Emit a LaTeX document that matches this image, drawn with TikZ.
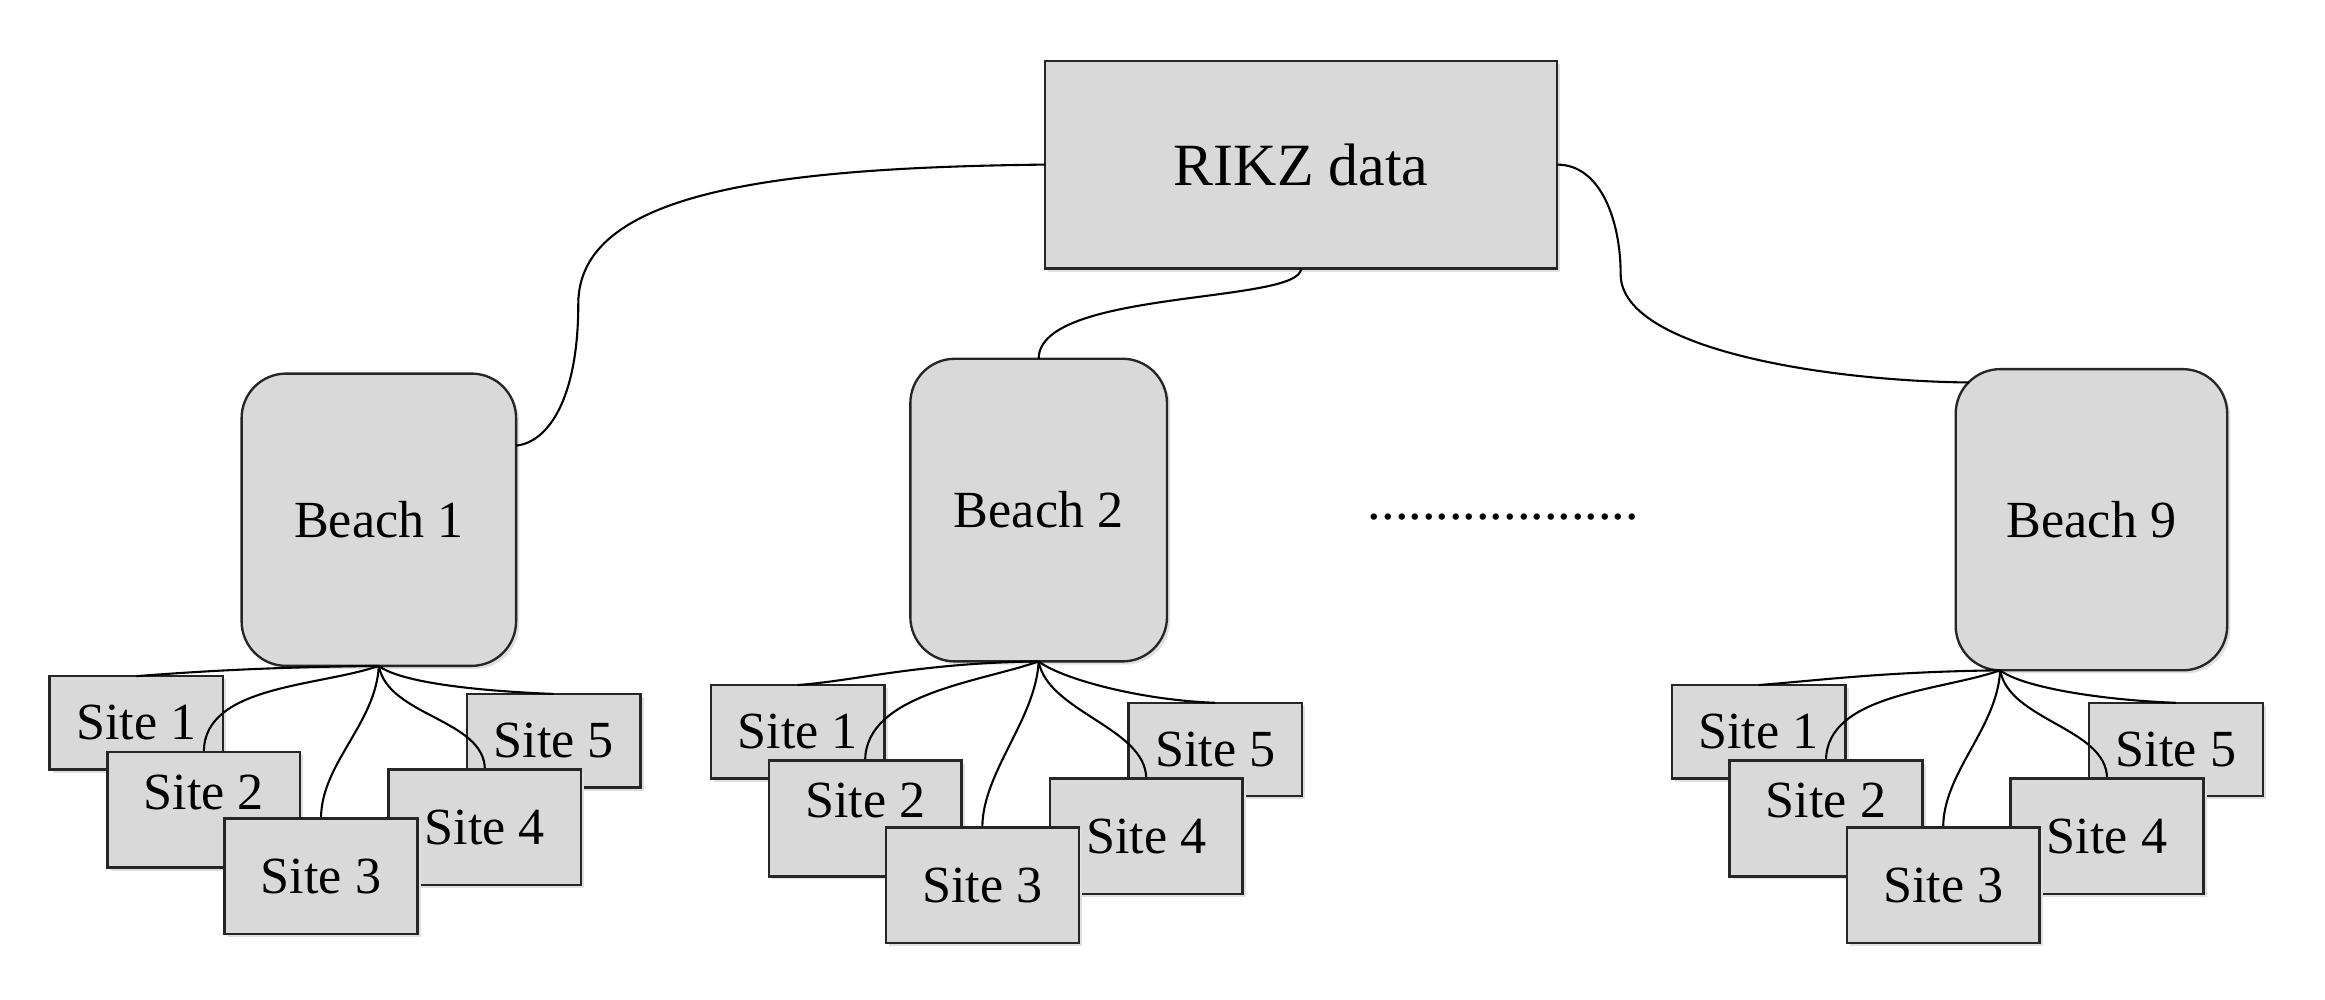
\documentclass[tikz,border=0pt]{standalone}
\usepackage{fontspec}
\setmainfont{Liberation Serif}
\usetikzlibrary{calc,shadows}

\definecolor{boxgray}{HTML}{D9D9D9}
\definecolor{linegray}{HTML}{262626}

\tikzset{
    databox/.style={draw=linegray, fill=boxgray, line width=0.45pt, outer sep=0pt,
        drop shadow={shadow xshift=0.6pt, shadow yshift=-0.6pt, fill=black!12, opacity=1}},
    rikzbox/.style={databox, minimum width=3.45cm, minimum height=1.40cm,
        font=\fontsize{11.5}{14}\selectfont},
    beachbox/.style={databox, rounded corners=0.3cm, font=\fontsize{10}{12}\selectfont},
    sitesmall/.style={databox, minimum width=1.17cm, minimum height=0.63cm,
        font=\fontsize{10}{12}\selectfont},
    sitebig/.style={databox, minimum width=1.30cm, minimum height=0.78cm,
        font=\fontsize{10}{12}\selectfont},
    link/.style={draw=black, line width=0.4pt},
}

% five sites under one beach: #1 prefix, #2 shift, #3 root
\newcommand{\beachsites}[3]{
    \begin{scope}[shift={#2}]
        \node[sitesmall] (#1s1) at (92,487.5) {Site 1};
        \node[sitesmall] (#1s5) at (373.5,499.5) {Site 5};
    \end{scope}
    \draw[link] (#3) .. controls +(-80,1) and +(40,-3) .. (#1s1.north);
    \draw[link] (#3) .. controls +(14,11) and +(-53,-2) .. (#1s5.north);
    \begin{scope}[shift={#2}]
        \coordinate (#1n2) at (137.5,507);
        \coordinate (#1n3) at (216.5,552);
        \coordinate (#1n4) at (327,519);
    \end{scope}
    \draw[link] (#3) .. controls +(-40,14) and +(0,-45) .. (#1n2);
    \draw[link] (#3) .. controls +(-2,39) and +(0,-37) .. (#1n3);
    \draw[link] (#3) .. controls +(6,34) and +(0,-34) .. (#1n4);
    \begin{scope}[shift={#2}]
        \node[sitebig, text depth=0.24cm] (#1s2) at (137.5,546) {Site 2};
        \node[sitebig] (#1s4) at (327,558) {Site 4};
        \node[sitebig] (#1s3) at (216.5,591) {Site 3};
    \end{scope}
}

\begin{document}
\begin{tikzpicture}[x=0.01cm, y=-0.01cm]
    \useasboundingbox (0,0) rectangle (1568,674.4);

    \node[rikzbox] (rikz) at (877.5,111) {RIKZ data};

    \node[beachbox, minimum width=1.85cm, minimum height=1.97cm] (beach1) at (255.5,350.5) {Beach 1};
    \node[beachbox, minimum width=1.73cm, minimum height=2.04cm] (beach2) at (700.5,344) {Beach 2};
    \node[beachbox, minimum width=1.83cm, minimum height=2.03cm] (beach9) at (1410.5,350.5) {Beach 9};

    \node[font=\fontsize{10.4}{12}\selectfont] (dots) at (1014,349) {....................};

    \coordinate (b1in) at ($(beach1.east)+(0,-50)$);
    \coordinate (b9in) at ($(beach9.north west)+(9,9)$);

    \draw[link] (rikz.west) .. controls +(-185,2) and +(0,-75) .. (390,205)
        .. controls +(0,65) and +(21,-2) .. (b1in);
    \draw[link] (rikz.south) .. controls +(0,24) and +(0,-47) .. (beach2.north);
    \draw[link] (rikz.east) .. controls +(30,0) and +(0,-35) .. (1093,185)
        .. controls +(0,50) and +(-98,-1) .. (b9in);

    \coordinate (b1root) at (beach1.south);
    \coordinate (b2root) at (beach2.south);
    \coordinate (b9root) at ($(beach9.south west)+(30,0)$);

    \beachsites{a}{(0,0)}{b1root}
    \beachsites{b}{(446,6)}{b2root}
    \beachsites{c}{(1094,6)}{b9root}
\end{tikzpicture}
\end{document}
